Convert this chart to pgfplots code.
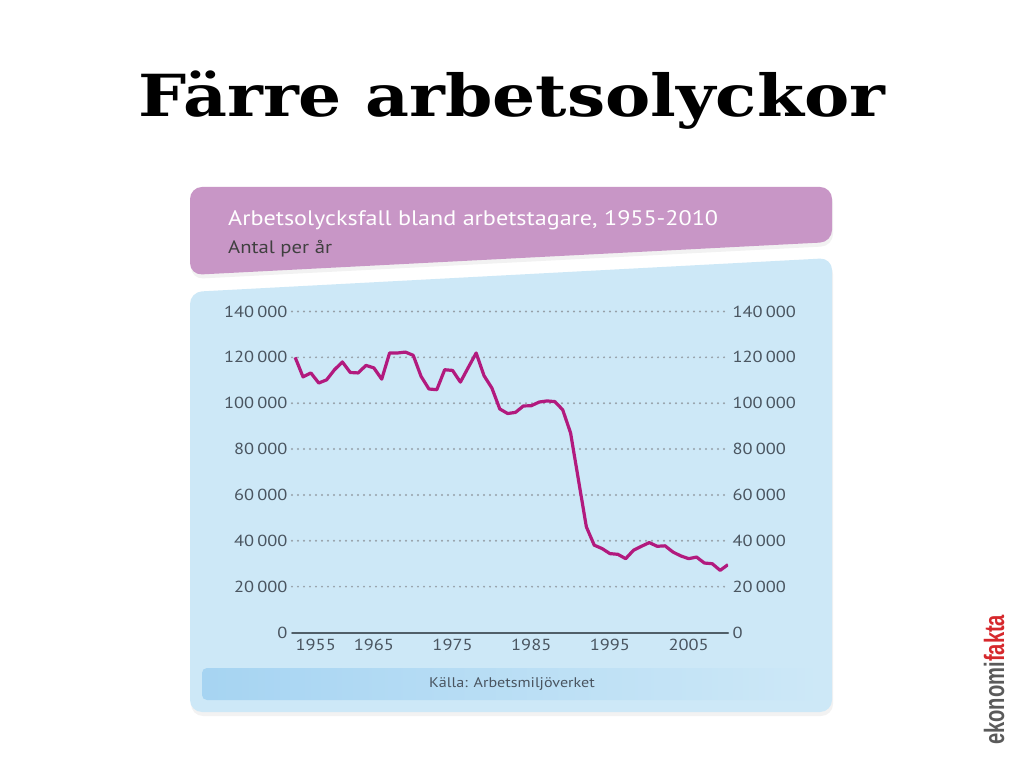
\documentclass[border=0pt]{standalone}
\usepackage{pgfplots}
\pgfplotsset{compat=1.18}
\usepackage{pgfplotstable}
\usepackage{fontspec}
\setmainfont{PT Sans}[FakeStretch=1.15]
\newfontfamily\titlefont{DejaVu Serif}
\newfontfamily\logofont{Liberation Sans}
\usetikzlibrary{shadows}

\definecolor{hdr}{RGB}{200,150,198}
\definecolor{panel}{RGB}{205,232,247}
\definecolor{srcbar}{RGB}{166,212,242}
\definecolor{curve}{RGB}{178,26,126}
\definecolor{tickc}{RGB}{74,85,96}
\definecolor{gridc}{RGB}{150,160,168}
\definecolor{basec}{RGB}{80,95,105}
\definecolor{logored}{RGB}{214,40,44}
\definecolor{logogray}{RGB}{90,90,90}

% Arbetsolycksfall per year
\pgfplotstableread{
year value
1955 120000
1956 111500
1957 113200
1958 108800
1959 110200
1960 114600
1961 118000
1962 113400
1963 113200
1964 116500
1965 115400
1966 110500
1967 121900
1968 121900
1969 122300
1970 120900
1971 111700
1972 106200
1973 105900
1974 114600
1975 114300
1976 109200
1977 115600
1978 121900
1979 112000
1980 106600
1981 97500
1982 95500
1983 96000
1984 98800
1985 98900
1986 100500
1987 101000
1988 100700
1989 97100
1990 87000
1991 66500
1992 46100
1993 38100
1994 36600
1995 34400
1996 34100
1997 32200
1998 35900
1999 37600
2000 39200
2001 37600
2002 37800
2003 35100
2004 33400
2005 32200
2006 32900
2007 30300
2008 30000
2009 27100
2010 29600
}\olyckor

\newcommand{\ts}{\hspace{0.2em}}

\pgfplotsset{
  chartbase/.style={
    at={(292pt,135.5pt)}, anchor=south west,
    scale only axis, width=436pt, height=321pt,
    xmin=1954.6, xmax=2010, ymin=0, ymax=140000,
    axis line style={draw=none},
    major tick length=0pt,
    scaled y ticks=false,
    ytick={20000,40000,60000,80000,100000,120000,140000},
    yticklabels={20\ts000,40\ts000,60\ts000,80\ts000,100\ts000,120\ts000,140\ts000},
    extra y ticks={0},
    extra y tick labels={0},
    ticklabel style={font=\fontsize{16}{18}\selectfont, text=tickc},
  },
}

\begin{document}
\begin{tikzpicture}[x=1pt,y=1pt]
\useasboundingbox (0,0) rectangle (1024,768);
\fill[white] (0,0) rectangle (1024,768);

% title
\node[anchor=base] at (512,651) {\scalebox{1.17}[1]{\titlefont\bfseries\fontsize{58}{64}\selectfont Färre arbetsolyckor}};

% panels
\fill[hdr, rounded corners=12, drop shadow={opacity=0.1, shadow xshift=1pt, shadow yshift=-4pt}]
  (190,581) -- (832,581) -- (832,526) -- (190,493) -- cycle;
\fill[panel, rounded corners=12, drop shadow={opacity=0.1, shadow xshift=1pt, shadow yshift=-4pt}]
  (190,476) -- (832,510) -- (832,56) -- (190,56) -- cycle;
\shade[left color=srcbar, right color=panel, rounded corners=5] (202,68) rectangle (820,100);

\node[anchor=base west, text=white, inner sep=0] at (228,542)
  {\fontsize{21}{24}\selectfont Arbetsolycksfall bland arbetstagare, 1955-2010};
\node[anchor=base west, text=black!75, inner sep=0] at (228,514)
  {\fontsize{18}{20}\selectfont Antal per år};
\node[text=tickc] at (512,84) {\fontsize{14}{16}\selectfont Källa: Arbetsmiljöverket};

% logo
\node[rotate=90, anchor=base west, inner sep=0] at (1004,23)
  {\scalebox{0.72}[1]{\logofont\bfseries\fontsize{28}{30}\selectfont\textcolor{logogray}{ekonomi}\textcolor{logored}{fakta}}};

\begin{axis}[
  chartbase,
  ymajorgrids,
  grid style={gridc, line width=2.2pt, line cap=round, dash pattern=on 0pt off 6pt},
  extra y tick style={grid style={basec, line width=2pt, solid}},
  xtick={1965,1975,1985,1995,2005},
  xticklabels={1965,1975,1985,1995,2005},
  extra x ticks={1955},
  extra x tick labels={1955},
  extra x tick style={xticklabel style={anchor=north west, xshift=-3pt}},
  xticklabel style={yshift=-3pt},
  yticklabel style={xshift=-1pt},
]
\addplot[curve, line width=3.2pt, line join=round] table[x=year, y=value] {\olyckor};
\end{axis}

\begin{axis}[
  chartbase,
  yticklabel pos=right,
  xtick=\empty,
  yticklabel style={xshift=1pt},
]
\end{axis}
\end{tikzpicture}
\end{document}
